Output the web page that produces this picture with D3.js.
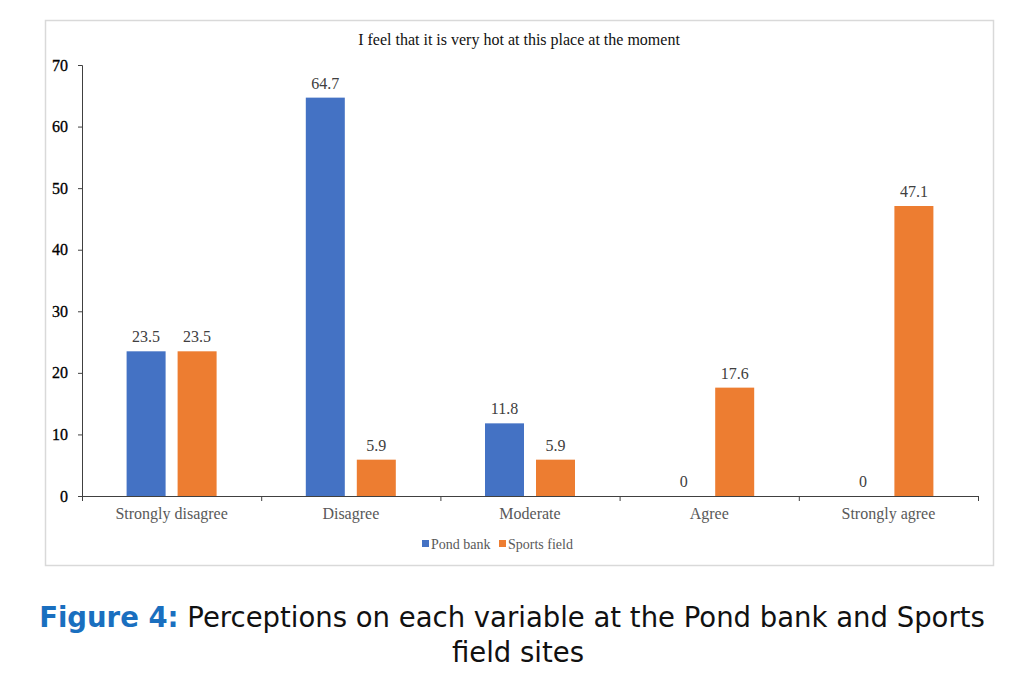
<!DOCTYPE html>
<html><head><meta charset="utf-8">
<script src="https://cdn.jsdelivr.net/npm/d3@7/dist/d3.min.js"></script>
<style>body{margin:0;background:#fff;} svg{display:block;}</style>
</head><body>
<svg id="c" width="1024" height="690"></svg>
<script>
const categories = ["Strongly disagree","Disagree","Moderate","Agree","Strongly agree"];
const seriesNames = ["Pond bank","Sports field"];
const pondBank = [23.5, 64.7, 11.8, 0, 0];
const sportsField = [23.5, 5.9, 5.9, 17.6, 47.1];
const yTicks = [0,10,20,30,40,50,60,70];
const colors = ["#4472c4","#ed7d31"];
const chartTitle = "I feel that it is very hot at this place at the moment";

const svg = d3.select("#c");
const serif = "'Liberation Serif','Times New Roman',serif";

// frame
svg.append("rect").attr("x",45.5).attr("y",20.5).attr("width",948).attr("height",545)
  .attr("fill","#fff").attr("stroke","#d9d9d9").attr("stroke-width",1.5);

const x0 = d3.scaleBand().domain(categories).range([82,978]);
const bw = x0.bandwidth();
const x1 = d3.scaleBand().domain(seriesNames).range([bw/2-45, bw/2+45]).paddingInner(0.2353);
const y = d3.scaleLinear().domain([0,70]).range([496,65]);

svg.append("text").attr("x",519).attr("y",45).attr("text-anchor","middle")
  .attr("font-family",serif).attr("font-size",16).attr("fill","#111").text(chartTitle);

const data = categories.map((c,i)=>({cat:c, vals:[pondBank[i], sportsField[i]]}));

const g = svg.append("g");
data.forEach(d=>{
  d.vals.forEach((v,j)=>{
    const xx = x0(d.cat)+x1(seriesNames[j]);
    g.append("rect").attr("x",xx).attr("y",y(v)).attr("width",x1.bandwidth())
      .attr("height",y(0)-y(v)).attr("fill",colors[j]);
    g.append("text").attr("x",xx+x1.bandwidth()/2).attr("y",y(v)-9)
      .attr("text-anchor","middle").attr("font-family",serif).attr("font-size",16)
      .attr("fill","#404040").text(v);
  });
});

// y axis
const ya = svg.append("g").attr("transform","translate(82,0)")
  .call(d3.axisLeft(y).tickValues(yTicks).tickSize(4).tickPadding(10));
ya.select(".domain").attr("stroke","#404040").attr("d","M-4,65.5H0.5V496.5");
ya.selectAll(".tick line").attr("stroke","#404040");
ya.selectAll(".tick text").attr("font-family",serif).attr("font-size",16).attr("fill","#000")
  .attr("stroke","#000").attr("stroke-width",0.3);

// x axis
const xa = svg.append("g").attr("transform","translate(0,496)")
  .call(d3.axisBottom(x0).tickSize(0).tickPadding(12));
xa.select(".domain").attr("stroke","#404040").attr("d","M82,0.5H978.5");
xa.selectAll(".tick text").attr("font-family",serif).attr("font-size",16).attr("fill","#595959");
categories.concat([null]).forEach((c,i)=>{
  const xx = 82 + i*bw;
  xa.append("line").attr("x1",xx+0.5).attr("x2",xx+0.5).attr("y1",0).attr("y2",5).attr("stroke","#404040");
});

// legend
const leg = svg.append("g").attr("transform","translate(422,549)");
const legX = [0, 77];
seriesNames.forEach((s,j)=>{
  leg.append("rect").attr("x",legX[j]).attr("y",-9).attr("width",7).attr("height",7).attr("fill",colors[j]);
  leg.append("text").attr("x",legX[j]+9).attr("y",0).attr("font-family",serif).attr("font-size",14)
    .attr("fill","#595959").text(s);
});

// caption
const capFont = "'DejaVu Sans','Noto Sans',sans-serif";
const cap = svg.append("text").attr("x",512).attr("y",627).attr("text-anchor","middle")
  .attr("font-family",capFont).attr("font-size",27.5).attr("fill","#111");
cap.append("tspan").attr("font-weight","bold").attr("fill","#1a6fbf").text("Figure 4:");
cap.append("tspan").text(" Perceptions on each variable at the Pond bank and Sports");
svg.append("text").attr("x",518).attr("y",662).attr("text-anchor","middle")
  .attr("font-family",capFont).attr("font-size",27.5).attr("fill","#111")
  .text("field sites");
</script>
</body></html>
